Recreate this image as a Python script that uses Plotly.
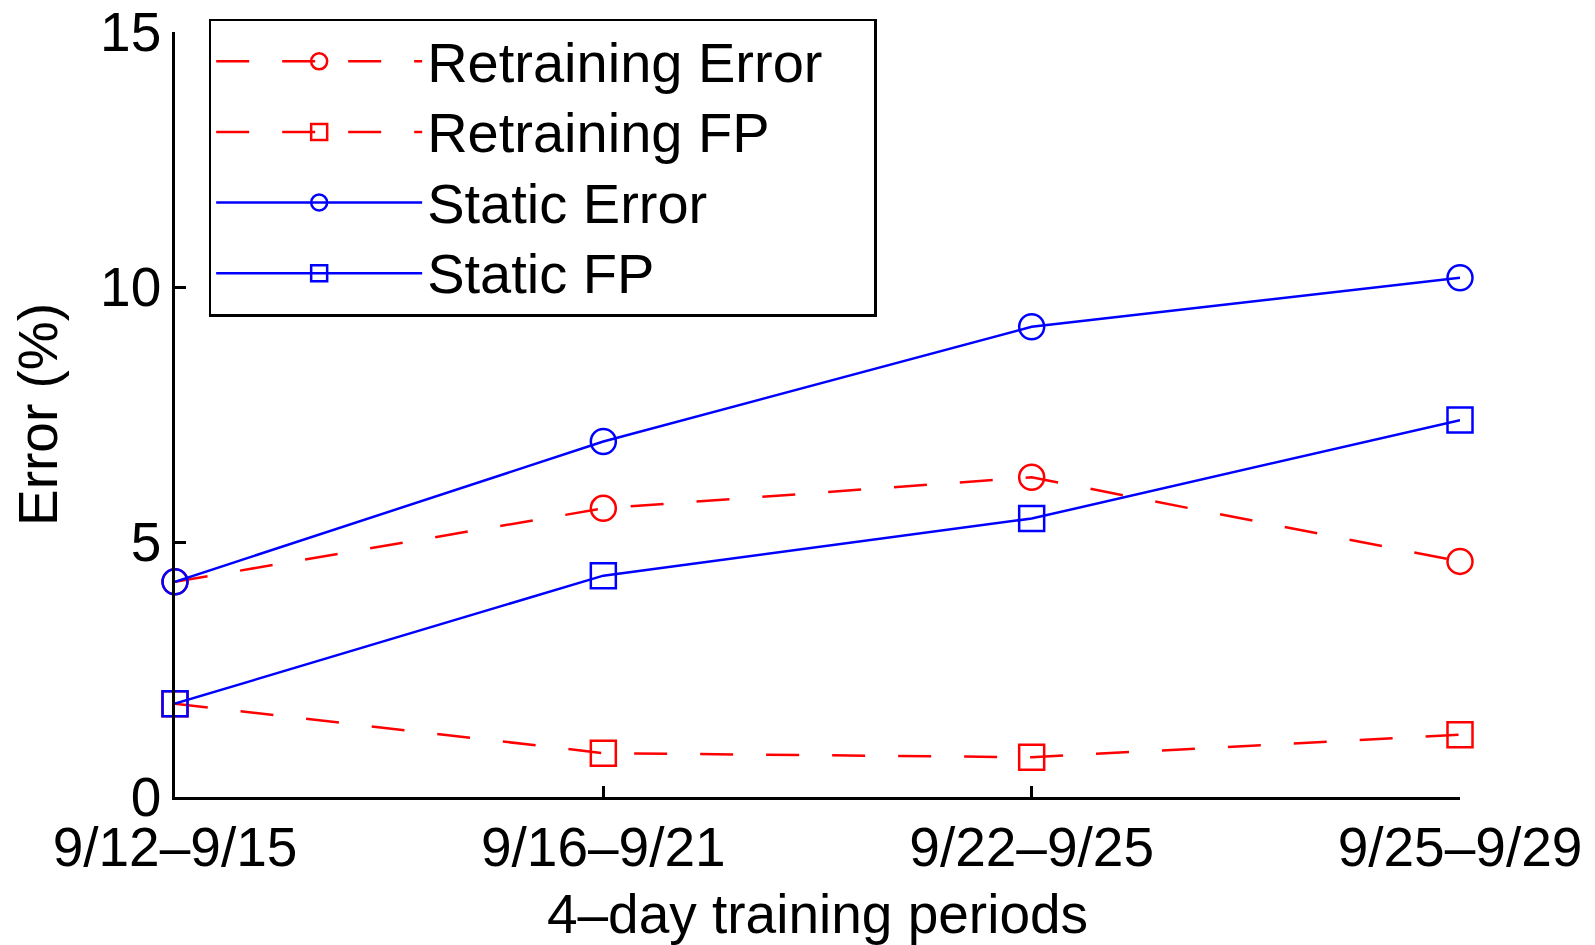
import plotly.graph_objects as go

periods = ["9/12\u20139/15", "9/16\u20139/21", "9/22\u20139/25", "9/25\u20139/29"]
retraining_error = [4.22, 5.66, 6.27, 4.62]
retraining_fp = [1.83, 0.86, 0.78, 1.22]
static_error = [4.22, 6.97, 9.22, 10.18]
static_fp = [1.83, 4.34, 5.46, 7.39]
series_names = ["Retraining Error", "Retraining FP", "Static Error", "Static FP"]

RED = "#FF0000"
BLUE = "#0000FF"
FONT = "Liberation Sans, Arial, Helvetica, sans-serif"

fig = go.Figure()

def label(text, pad=0):
    return "<span style='font-size:56px'>" + text + "\u00a0" * pad + "</span>"

def add(name, y, color, symbol, dash, size):
    fig.add_trace(go.Scatter(
        x=periods, y=y, name=name, mode="lines+markers",
        line=dict(color=color, width=2.5, dash=dash),
        marker=dict(symbol=symbol, size=size, color=color,
                    line=dict(color=color, width=2.5)),
        cliponaxis=False,
    ))

add(label(series_names[0], 3), retraining_error, RED, "circle-open", "33px,33px", 25)
add(label(series_names[1]), retraining_fp, RED, "square-open", "33px,33px", 25)
add(label(series_names[2]), static_error, BLUE, "circle-open", "solid", 25)
add(label(series_names[3]), static_fp, BLUE, "square-open", "solid", 25)

fig.update_layout(
    width=1595, height=945,
    margin=dict(l=175, r=135, t=31.5, b=147.5, autoexpand=False),
    paper_bgcolor="white", plot_bgcolor="white",
    font=dict(family=FONT, size=55, color="black"),
    showlegend=True,
    legend=dict(
        x=0.0262, y=1.0176, xanchor="left", yanchor="top",
        bgcolor="white", bordercolor="black", borderwidth=2.5,
        font=dict(family=FONT, size=52, color="black"),
        itemwidth=206, tracegroupgap=0,
    ),
    xaxis=dict(
        type="category", range=[0, 3],
        showgrid=False, zeroline=False,
        showline=True, linecolor="black", linewidth=2.5,
        ticks="inside", ticklen=11, tickwidth=2.5, tickcolor="black",
        tickfont=dict(family=FONT, size=55, color="black"),
        title=dict(text="4\u2013day training periods", standoff=18,
                   font=dict(family=FONT, size=55, color="black")),
    ),
    yaxis=dict(
        range=[0, 15], tickvals=[0, 5, 10, 15],
        showgrid=False, zeroline=False,
        showline=True, linecolor="black", linewidth=2.5,
        ticks="inside", ticklen=11, tickwidth=2.5, tickcolor="black",
        tickfont=dict(family=FONT, size=55, color="black"),
        title=dict(text="Error (%)", standoff=25,
                   font=dict(family=FONT, size=55, color="black")),
    ),
)

fig.write_html("out.html")
